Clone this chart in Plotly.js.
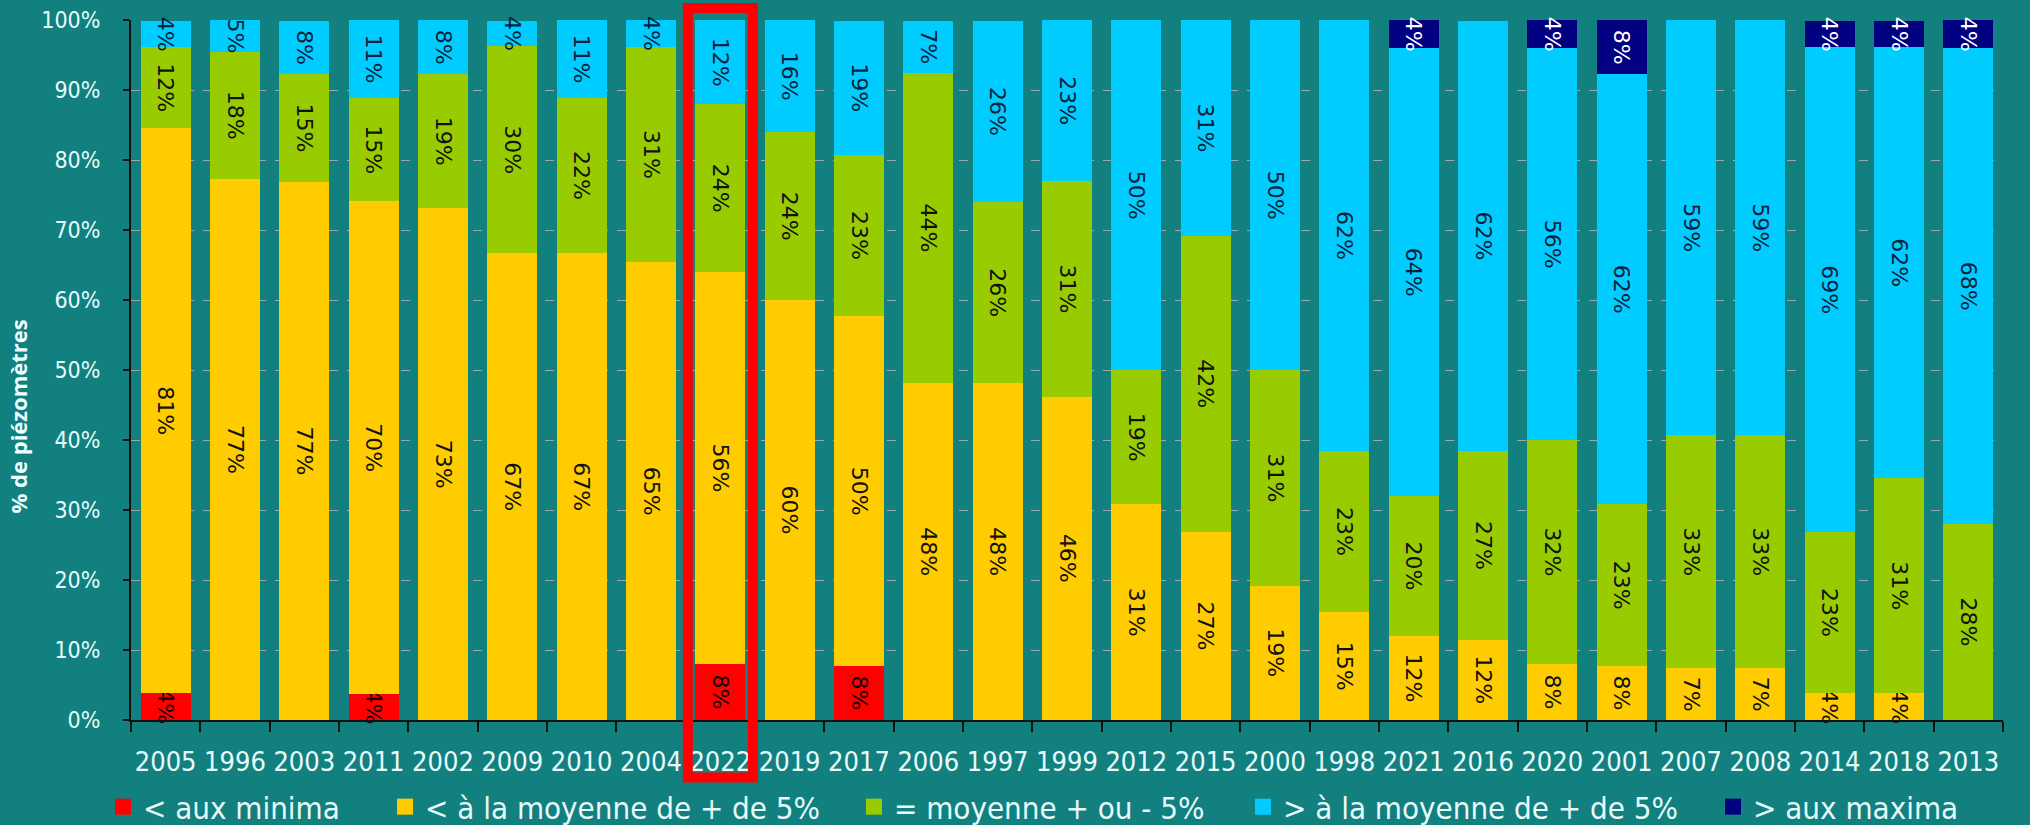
<!DOCTYPE html>
<html>
<head>
<meta charset="utf-8">
<script src="https://cdn.plot.ly/plotly-3.0.1.min.js"></script>
<style>html,body{margin:0;padding:0;background:#12807f;}</style>
</head>
<body>
<div id="chart" style="width:2030px;height:825px;"></div>
<script>
// Categories (years, ordered as in the source chart)
const years = ['2005','1996','2003','2011','2002','2009','2010','2004','2022','2019','2017','2006','1997','1999','2012','2015','2000','1998','2021','2016','2020','2001','2007','2008','2014','2018','2013'];

// Share of piezometers (%) per class
const belowMinima = [3.8,null,null,3.7,null,null,null,null,8.0,null,7.7,null,null,null,null,null,null,null,null,null,null,null,null,null,null,null,null];
const belowMean5  = [80.8,77.3,76.9,70.4,73.1,66.7,66.7,65.4,56.0,60.0,50.0,48.1,48.1,46.2,30.8,26.9,19.2,15.4,12.0,11.5,8.0,7.7,7.4,7.4,3.8,3.8,null];
const aroundMean  = [11.5,18.2,15.4,14.8,19.2,29.6,22.2,30.8,24.0,24.0,23.1,44.4,25.9,30.8,19.2,42.3,30.8,23.1,20.0,26.9,32.0,23.1,33.3,33.3,23.1,30.8,28.0];
const aboveMean5  = [3.8,4.5,7.6,11.1,7.7,3.6,11.1,3.8,12.0,16.0,19.1,7.4,25.9,23.0,50.0,30.8,50.0,61.5,64.0,61.5,56.0,61.5,59.3,59.3,69.2,61.5,68.0];
const aboveMaxima = [null,null,null,null,null,null,null,null,null,null,null,null,null,null,null,null,null,null,4.0,null,4.0,7.7,null,null,3.8,3.8,4.0];

// Y axis ticks
const yTickVals   = [0,10,20,30,40,50,60,70,80,90,100];
const yTickLabels = ['0%','10%','20%','30%','40%','50%','60%','70%','80%','90%','100%'];

const seriesNames = ['< aux minima','< à la moyenne de + de 5%','= moyenne + ou - 5%','> à la moyenne de + de 5%','> aux maxima'];
const seriesValues = [belowMinima, belowMean5, aroundMean, aboveMean5, aboveMaxima];
const seriesColors = ['#ff0000','#ffcc00','#99cc00','#00ccff','#000080'];
const textColors = ['#1a0000','#111111','#111111','#0a1f3a','#ffffff'];
const highlightYear = '2022';
const yTitle = '% de piézomètres';

const legendIds = ['legend','legend2','legend3','legend4','legend5'];
const legendX = [-0.015, 0.1357, 0.3862, 0.594, 0.8451];

const traces = [];
seriesValues.forEach((vals, i) => {
  traces.push({
    type: 'bar',
    x: years,
    y: vals,
    name: seriesNames[i],
    marker: {color: seriesColors[i]},
    texttemplate: vals.map(v => v == null ? '' : '%{y:.0f}%'),
    textposition: 'inside',
    insidetextanchor: 'middle',
    textangle: 90,
    textfont: {family: 'DejaVu Sans', size: 22, color: textColors[i]},
    cliponaxis: false,
    showlegend: false,
    hoverinfo: 'x+y+name'
  });
});
// legend entries (square symbols)
seriesNames.forEach((n, i) => {
  traces.push({
    type: 'scatter', mode: 'markers',
    x: [null], y: [null],
    name: n,
    marker: {symbol: 'square', size: 18, color: seriesColors[i]},
    showlegend: true,
    legend: legendIds[i]
  });
});

const legendBase = {
  orientation: 'h', xanchor: 'left', yanchor: 'middle',
  yref: 'container', y: 0.0218,
  bgcolor: 'rgba(0,0,0,0)', borderwidth: 0,
  font: {family: 'DejaVu Sans Condensed', size: 31, color: '#e6fbfb'},
  itemclick: false, itemdoubleclick: false
};
const layout = {
  width: 2030, height: 825,
  paper_bgcolor: '#12807f',
  plot_bgcolor: '#12807f',
  margin: {l: 131, r: 27, t: 20, b: 105},
  barmode: 'stack',
  bargap: 0.28,
  uniformtext: {mode: 'show', minsize: 22},
  xaxis: {
    type: 'category',
    showline: true, linecolor: '#111', linewidth: 2,
    ticks: 'outside', tickson: 'boundaries', ticklen: 10, tickcolor: '#111', tickwidth: 2,
    tickangle: 0,
    tickfont: {family: 'DejaVu Sans Condensed', size: 27, color: '#e6fbfb'},
    ticklabelstandoff: 17,
    showgrid: false, zeroline: false
  },
  yaxis: {
    range: [0, 100.02], tickmode: 'array', tickvals: yTickVals, ticktext: yTickLabels,
    showline: true, linecolor: '#111', linewidth: 2,
    ticks: 'outside', ticklen: 6, tickcolor: '#111', tickwidth: 2,
    tickfont: {family: 'DejaVu Sans Condensed', size: 23, color: '#e6fbfb'},
    ticklabelstandoff: 18,
    showgrid: true, gridcolor: '#9aa8a8', griddash: 'dash', gridwidth: 1,
    zeroline: false
  },
  annotations: [{
    text: yTitle, xref: 'paper', yref: 'paper', x: -0.0606, y: 0.433,
    xanchor: 'center', yanchor: 'middle', textangle: -90, showarrow: false,
    font: {family: 'Open Sans', size: 22, weight: 700, color: '#f0ffff'}
  }],
  shapes: [{
    type: 'rect', xref: 'x', yref: 'paper',
    x0: years.indexOf(highlightYear) - 0.469, x1: years.indexOf(highlightYear) + 0.469,
    y0: -0.0821, y1: 1.0171,
    line: {color: '#ff0000', width: 10}, fillcolor: 'rgba(0,0,0,0)', layer: 'above'
  }],
  showlegend: true
};
legendIds.forEach((id, i) => {
  layout[id] = Object.assign({}, legendBase, {x: legendX[i]});
});

Plotly.newPlot('chart', traces, layout, {displayModeBar: false, staticPlot: true});
</script>
</body>
</html>
